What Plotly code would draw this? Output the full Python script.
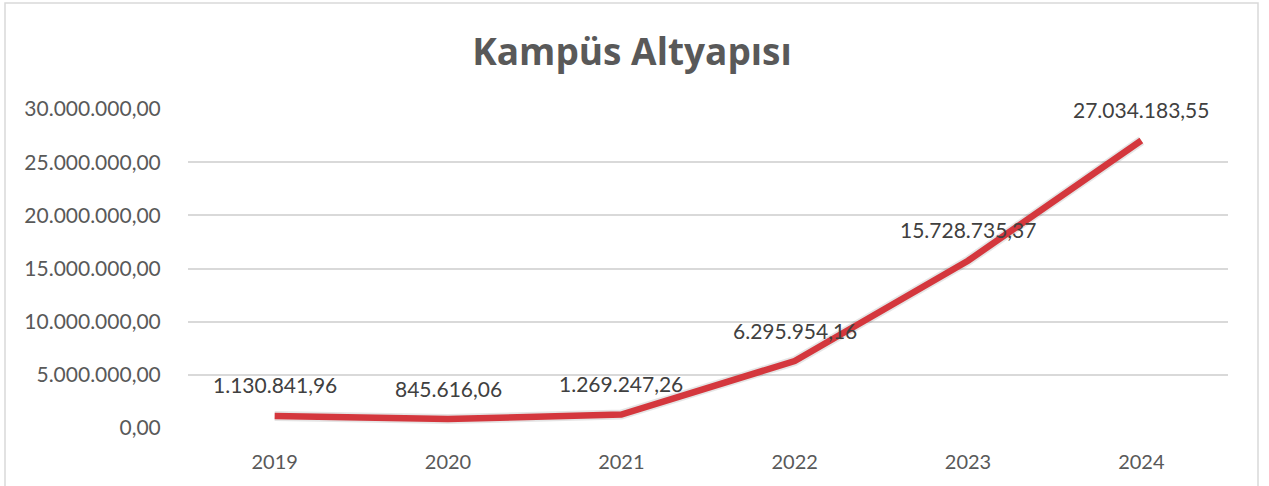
import plotly.graph_objects as go

years = ["2019", "2020", "2021", "2022", "2023", "2024"]
values = [1130841.96, 845616.06, 1269247.26, 6295954.16, 15728735.37, 27034183.55]
labels = ["1.130.841,96", "845.616,06", "1.269.247,26", "6.295.954,16", "15.728.735,37", "27.034.183,55"]
y_ticks = [0, 5000000, 10000000, 15000000, 20000000, 25000000, 30000000]

fig = go.Figure()
fig.add_trace(go.Scatter(
    x=years, y=values, mode="lines",
    line=dict(color="rgba(0,0,0,0.10)", width=10),
    hoverinfo="skip",
))
fig.add_trace(go.Scatter(
    x=years, y=values, mode="lines",
    line=dict(color="#D4373D", width=6.5),
    hoverinfo="skip",
))

for i, (v, lab) in enumerate(zip(values, labels)):
    fig.add_annotation(x=i, y=v, xref="x", yref="y", text=lab, showarrow=False, yshift=31,
                       font=dict(family="Lato", size=21, color="#404040"))

L, R, T, B = 188, 41, 109, 58
W, H = 1269, 486
pw, ph = W - L - R, H - T - B

fig.update_layout(
    width=W, height=H,
    margin=dict(l=L, r=R, t=T, b=B),
    paper_bgcolor="white", plot_bgcolor="white",
    separators=",.",
    showlegend=False,
    title=dict(text="<b>Kampüs Altyapısı</b>", x=0.498, xanchor="center", y=1 - 52 / H, yanchor="middle",
               font=dict(family="Open Sans", size=37, color="#595959")),
    xaxis=dict(type="category", range=[-0.5, 5.5], showgrid=False, showline=False, zeroline=False,
               ticks="outside", ticklen=16, tickcolor="rgba(0,0,0,0)",
               tickfont=dict(family="Lato", size=20, color="#595959")),
    yaxis=dict(range=[0, 30000000], tickvals=y_ticks, tickformat=",.2f",
               showgrid=True, gridcolor="#D9D9D9", gridwidth=1.5, zeroline=False, showline=False,
               ticks="outside", ticklen=22, tickcolor="rgba(0,0,0,0)",
               tickfont=dict(family="Lato", size=21, color="#595959")),
    shapes=[dict(type="rect", xref="paper", yref="paper",
                 x0=(5 - L) / pw, x1=(1258 - L) / pw, y0=-0.3, y1=(H - B - 3) / ph,
                 line=dict(color="#D9D9D9", width=1.5), fillcolor="rgba(0,0,0,0)", layer="below")],
)

fig.write_html("out.html", config={"displayModeBar": False},
               post_script="document.body.style.margin='0px';")
